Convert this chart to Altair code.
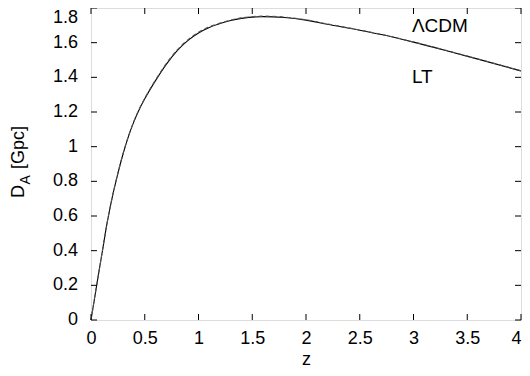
import altair as alt
import pandas as pd

# ---- data ----
z_vals = [0, 0.05, 0.1, 0.15, 0.2, 0.25, 0.3, 0.35, 0.4, 0.45, 0.5, 0.6, 0.7, 0.8,
          0.9, 1.0, 1.1, 1.2, 1.3, 1.4, 1.6, 1.8, 2.0, 2.2, 2.5, 2.7, 3.0, 3.3, 3.6, 4.0]
lcdm_vals = [0, 0.19, 0.375, 0.56, 0.715, 0.845, 0.962, 1.062, 1.146, 1.216, 1.276, 1.381,
             1.475, 1.553, 1.612, 1.656, 1.688, 1.710, 1.728, 1.740, 1.750, 1.745, 1.730,
             1.706, 1.672, 1.647, 1.603, 1.555, 1.505, 1.437]
lt_vals = [0, 0.19, 0.376, 0.561, 0.716, 0.847, 0.964, 1.064, 1.148, 1.219, 1.279, 1.385,
           1.479, 1.557, 1.616, 1.660, 1.692, 1.713, 1.731, 1.743, 1.753, 1.748, 1.732,
           1.708, 1.673, 1.648, 1.604, 1.556, 1.506, 1.438]
x_ticks = [0, 0.5, 1, 1.5, 2, 2.5, 3, 3.5, 4]
y_ticks = [0, 0.2, 0.4, 0.6, 0.8, 1, 1.2, 1.4, 1.6, 1.8]
key_labels = ["\u039bCDM", "LT"]
key_z = [2.985, 2.985]
key_y = [1.662, 1.366]

FONT = "Liberation Sans"
W, H = 430, 312
TICK = 6

df = pd.DataFrame({"z": z_vals, "lcdm": lcdm_vals, "lt": lt_vals})
xt = pd.DataFrame({"t": x_ticks})
yt = pd.DataFrame({"t": y_ticks})
yt_low = pd.DataFrame({"t": y_ticks[:-1]})
yt_top = pd.DataFrame({"t": [y_ticks[-1]]})
key = pd.DataFrame({"label": key_labels, "z": key_z, "y": key_y})

xs = alt.Scale(domain=[0, 4], nice=False, zero=False)
ys = alt.Scale(domain=[0, 1.8], nice=False, zero=False)

x_axis = alt.Axis(values=x_ticks, format="~g", ticks=False, tickSize=0, domain=False,
                  grid=False, labelFont=FONT, labelFontSize=18, labelColor="black",
                  labelPadding=9, labelOverlap=False,
                  labelAlign={"condition": {"test": "datum.value >= 3.99", "value": "right"},
                              "value": "center"},
                  title="z", titleFont=FONT, titleFontSize=18,
                  titleFontWeight="normal", titleColor="black", titleY=44,
                  titleBaseline="alphabetic")
y_axis = alt.Axis(ticks=False, domain=False, grid=False, labels=False, title=None)

base = alt.Chart(df)
lcdm = base.mark_line(color="black", strokeWidth=1.1, interpolate="monotone").encode(
    x=alt.X("z:Q", scale=xs, axis=x_axis),
    y=alt.Y("lcdm:Q", scale=ys, axis=y_axis),
)
lt = base.mark_line(color="#555555", strokeWidth=1.1, strokeDash=[4, 3],
                    interpolate="monotone").encode(
    x=alt.X("z:Q", scale=xs),
    y=alt.Y("lt:Q", scale=ys),
)

tick_style = dict(color="black", strokeWidth=1)
bottom_ticks = alt.Chart(xt).mark_rule(**tick_style).encode(
    x=alt.X("t:Q", scale=xs), y=alt.value(H), y2=alt.value(H - TICK))
top_ticks = alt.Chart(xt).mark_rule(**tick_style).encode(
    x=alt.X("t:Q", scale=xs), y=alt.value(0), y2=alt.value(TICK))
left_ticks = alt.Chart(yt).mark_rule(**tick_style).encode(
    y=alt.Y("t:Q", scale=ys), x=alt.value(0), x2=alt.value(TICK))
right_ticks = alt.Chart(yt).mark_rule(**tick_style).encode(
    y=alt.Y("t:Q", scale=ys), x=alt.value(W), x2=alt.value(W - TICK))

# y tick labels
label_style = dict(font=FONT, fontSize=18, align="right", color="black")
y_labels = alt.Chart(yt_low).mark_text(baseline="middle", **label_style).encode(
    x=alt.value(-13), y=alt.Y("t:Q", scale=ys), text=alt.Text("t:Q", format="~g"))
top_label = alt.Chart(yt_top).mark_text(baseline="top", dy=1, **label_style).encode(
    x=alt.value(-13), y=alt.Y("t:Q", scale=ys), text=alt.Text("t:Q", format="~g"))

key_text = alt.Chart(key).mark_text(font=FONT, fontSize=19, align="left",
                                    baseline="alphabetic", color="black").encode(
    x=alt.X("z:Q", scale=xs), y=alt.Y("y:Q", scale=ys), text="label:N")

# y-axis title "D_A [Gpc]" with a subscript A
yt_d = alt.Chart(pd.DataFrame({"s": ["D"]})).mark_text(
    font=FONT, fontSize=18, angle=270, align="left", baseline="alphabetic", color="black"
).encode(x=alt.value(-67), y=alt.value(190), text="s:N")
yt_a = alt.Chart(pd.DataFrame({"s": ["A"]})).mark_text(
    font=FONT, fontSize=14, angle=270, align="left", baseline="alphabetic", color="black"
).encode(x=alt.value(-61), y=alt.value(176.5), text="s:N")
yt_g = alt.Chart(pd.DataFrame({"s": ["[Gpc]"]})).mark_text(
    font=FONT, fontSize=18, angle=270, align="left", baseline="alphabetic", color="black"
).encode(x=alt.value(-67), y=alt.value(161), text="s:N")

chart = alt.layer(
    lcdm, lt, bottom_ticks, top_ticks, left_ticks, right_ticks, y_labels, top_label,
    key_text, yt_d, yt_a, yt_g
).properties(
    width=W, height=H,
    autosize=alt.AutoSizeParams(type="none"),
    padding={"left": 83, "top": 0, "right": 1, "bottom": 48},
).configure_view(stroke="black", strokeWidth=1).configure_axis(
    labelOverlap=False
).configure(background="white")

chart.save("out.html", embed_options={"renderer": "svg", "actions": False})
